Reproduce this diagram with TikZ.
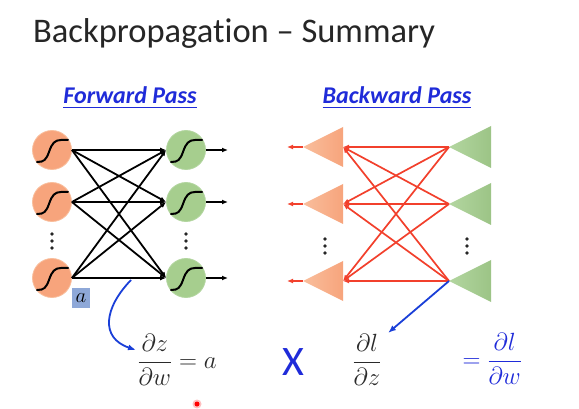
\documentclass[tikz,border=0pt]{standalone}
\usepackage{amsmath}
\usepackage{fontspec}
\setmainfont{Carlito}
\usetikzlibrary{arrows.meta}
\definecolor{titlegray}{HTML}{262626}
\definecolor{passblue}{HTML}{1F2BD9}
\definecolor{arrowblue}{HTML}{1A3FD8}
\definecolor{orangefill}{HTML}{F7A47C}
\definecolor{orangelight}{HTML}{F9BE9C}
\definecolor{greenfill}{HTML}{A6CE8E}
\definecolor{greendark}{HTML}{9CC486}
\definecolor{greenlight}{HTML}{B3D6A0}
\definecolor{backred}{HTML}{F2402C}
\definecolor{abox}{HTML}{8EA8D8}
\definecolor{mathgray}{HTML}{2A2A2A}
\tikzset{
  neuronO/.style={circle, fill=orangefill, draw=orangelight, line width=0.8pt, minimum size=39pt, inner sep=0pt},
  neuronG/.style={circle, fill=greenfill, draw=greenlight, line width=0.8pt, minimum size=39pt, inner sep=0pt},
  sig/.pic={\draw[line width=2pt, line cap=round] (-15,12) .. controls (-8,12) and (-6,10) .. (-3,2) .. controls (0,-7) and (3,-10) .. (9,-10) -- (16,-10);},
  dots/.pic={\foreach \k in {-7,0,7} \fill[black!85] (0,\k) circle (1.8);},
  fwd/.style={-{Latex[length=6pt,width=5pt]}, line width=1.8pt, black},
  bwd/.style={-{Latex[length=6pt,width=5pt]}, line width=1.7pt, backred},
  passtitle/.style={font=\fontsize{24}{28}\selectfont\bfseries\itshape, text=passblue},
  formula/.style={anchor=west, font=\fontsize{25}{30}\selectfont}
}
\begin{document}
\begin{tikzpicture}[x=1pt, y=-1pt]
  \useasboundingbox (0,0) rectangle (579,409);
  \fill[white] (0,0) rectangle (579,409);
  % title
  \node[anchor=base west, inner sep=0pt, text=titlegray, font=\fontsize{34.5}{38}\selectfont\addfontfeatures{Ligatures=NoCommon}] (title) at (33,43) {Backpropagation -- Summary};
  \node[passtitle, anchor=base, inner sep=0pt] (fp) at (130,104) {\underline{Forward Pass}};
  \node[passtitle, anchor=base, inner sep=0pt] (bp) at (397,104) {\underline{Backward Pass}};

  % forward pass
  \foreach \i/\y in {1/150, 2/202, 3/278} {
    \node[neuronO] (f\i) at (52,\y) {};
    \node[neuronG] (g\i) at (186,\y) {};
    \pic at (f\i) {sig};
    \pic at (g\i) {sig};
    \coordinate (o\i) at (228,\y);
    \draw[fwd, line width=1.5pt] (g\i.east) -- (o\i);
  }
  \foreach \i in {1,2,3}
    \foreach \j in {1,2,3}
      \draw[fwd] (f\i.east) -- (g\j.west);
  \pic at (52,241) {dots};
  \pic at (186,241) {dots};
  \node[fill=abox, minimum width=18pt, minimum height=20pt, inner sep=0pt] (a) at (81,298) {\fontsize{21}{21}\selectfont$a$};

  % backward pass
  \foreach \i/\y in {1/147, 2/204, 3/281} {
    \coordinate (ob\i) at (343,\y);
    \coordinate (ot\i) at (303,\y);
    \coordinate (gt\i) at (449,\y);
    \coordinate (ol\i) at (287,\y);
    \shade[left color=orangelight, right color=orangefill] (ob\i) ++(0,-20) -- ++(0,40) -- (ot\i) -- cycle;
    \shade[left color=greenlight, right color=greendark] (gt\i) -- ++(42,-21) -- ++(0,42) -- cycle;
    \draw[bwd, line width=1.2pt] (ot\i) -- (ol\i);
  }
  \foreach \i in {1,2,3}
    \foreach \j in {1,2,3}
      \draw[bwd] (gt\i) -- (ob\j);
  \pic at (325,246) {dots};
  \pic at (467,246) {dots};

  % formulas
  \node[formula, text=mathgray] (dzdw) at (134,360) {$\dfrac{\partial z}{\partial w} = a$};
  \node[text=passblue, font=\fontsize{42}{42}\selectfont] (times) at (293,362) {X};
  \node[formula, text=mathgray] (dldz) at (349,360) {$\dfrac{\partial l}{\partial z}$};
  \node[formula, text=passblue] (dldw) at (459,359) {$=\dfrac{\partial l}{\partial w}$};

  % pointers
  \coordinate (pa) at (131,280);
  \coordinate (pz) at (136,350);
  \coordinate (pl) at (388,333);
  \draw[-{Latex[length=8pt,width=6pt]}, arrowblue, line width=1.8pt] (pa) .. controls (104,308) and (100,338) .. (pz);
  \draw[-{Latex[length=8pt,width=6pt]}, arrowblue, line width=1.8pt] (gt3) -- (pl);

  % pointer dot
  \fill[red!25] (197,404) circle (4.5);
  \fill[red] (197,404) circle (2.5);
\end{tikzpicture}
\end{document}
